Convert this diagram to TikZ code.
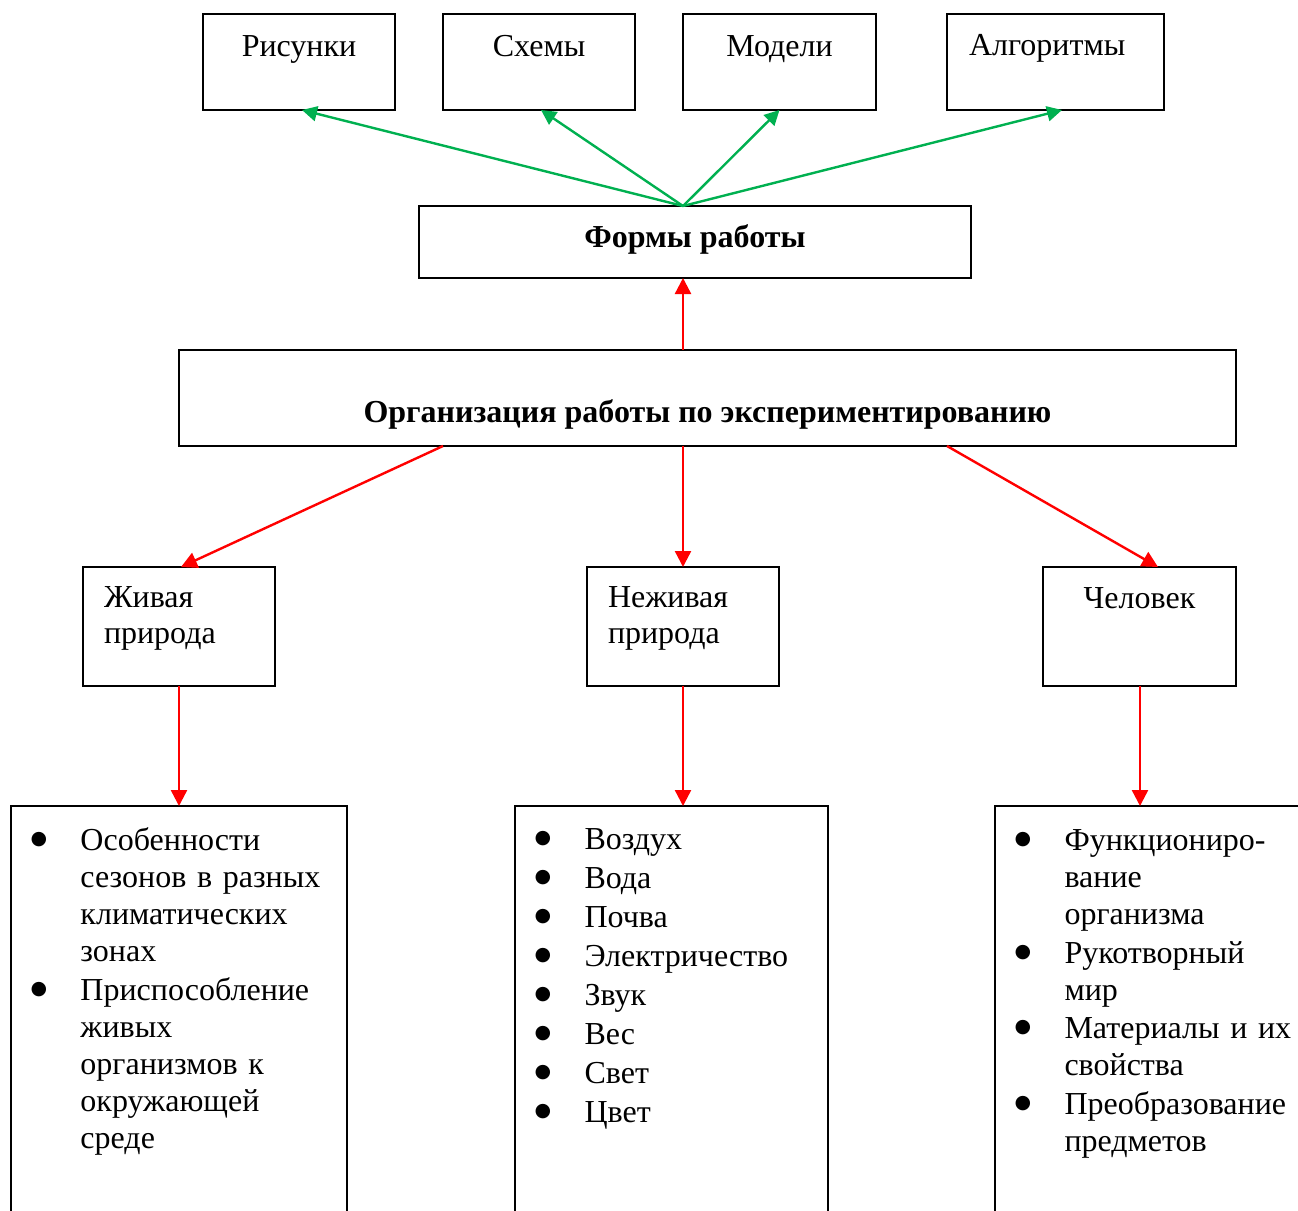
\documentclass[tikz,border=0pt]{standalone}
\usepackage{fontspec}
\setmainfont{Liberation Serif}
\newfontfamily\symfont{DejaVu Sans}
\usetikzlibrary{arrows.meta,calc}
\definecolor{grn}{RGB}{0,176,80}
\definecolor{rd}{RGB}{255,0,0}
\newcommand\bulitem{\makebox[41.5pt][l]{\makebox[0pt][c]{\raisebox{6pt}{\symfont\fontsize{19}{19}\selectfont ●}}}}
\begin{document}
\begin{tikzpicture}[x=1pt,y=-1pt,
  box/.style={draw, line width=1.8pt, inner sep=0pt, outer sep=0pt, anchor=north west,
    font=\fontsize{32}{37}\selectfont},
  bbox/.style={box, font=\fontsize{32}{37}\selectfont\bfseries},
  garrow/.style={draw=grn, line width=2.4pt, -{Triangle[length=15pt,width=15pt]}},
  rarrow/.style={draw=rd, line width=2.4pt, -{Triangle[length=16pt,width=16pt]}}]
\useasboundingbox (0,0) rectangle (1298,1210);
\clip (0,0) rectangle (1298,1210);
% top row
\node[box, minimum width=192pt, text height=42pt, text depth=54pt] (ris) at (203,14) {Рисунки};
\node[box, minimum width=192pt, text height=42pt, text depth=54pt] (sch) at (443,14) {Схемы};
\node[box, minimum width=193pt, text height=42pt, text depth=54pt] (mod) at (683,14) {Модели};
\node[box, text width=217pt, align=left, text height=41pt, text depth=55pt] (alg) at (947,14) {\hspace*{22pt}Алгоритмы};
% forms
\node[bbox, minimum width=552pt, text height=41pt, text depth=31pt] (forms) at (419,206) {Формы работы};
% organisation
\node[bbox, minimum width=1057pt, text height=72pt, text depth=24pt] (org) at (179,350) {Организация работы по экспериментированию};
% middle row
\node[box, text width=192pt, align=left, text height=40pt, text depth=79pt,
  font=\fontsize{32}{36}\selectfont] (ziv) at (83,567) {\hspace*{21pt}Живая\\\hspace*{21pt}природа};
\node[box, text width=192pt, align=left, text height=40pt, text depth=79pt,
  font=\fontsize{32}{36}\selectfont] (nez) at (587,567) {\hspace*{21pt}Неживая\\\hspace*{21pt}природа};
\node[box, minimum width=193pt, text height=41pt, text depth=78pt] (chel) at (1043,567) {Человек};
% bottom row
\node[box, text width=336pt, align=left, text height=44pt, text depth=420pt] (lft) at (11,806)
 {\noindent\hspace*{28pt}\begin{tabular}[t]{@{}l@{}l@{}}
  \bulitem & Особенности\\
  & сезонов в разных\\
  & климатических\\
  & зонах\\[2pt]
  \bulitem & Приспособление\\
  & живых\\
  & организмов к\\
  & окружающей\\
  & среде
 \end{tabular}};
\node[box, text width=313pt, align=left, text height=43pt, text depth=420pt] (mid) at (515,806)
 {\noindent\hspace*{28pt}\begin{tabular}[t]{@{}l@{}l@{}}
  \bulitem & Воздух\\[2pt]
  \bulitem & Вода\\[2pt]
  \bulitem & Почва\\[2pt]
  \bulitem & Электричество\\[2pt]
  \bulitem & Звук\\[2pt]
  \bulitem & Вес\\[2pt]
  \bulitem & Свет\\[2pt]
  \bulitem & Цвет
 \end{tabular}};
\node[box, text width=340pt, align=left, text height=44pt, text depth=420pt] (rgt) at (995,806)
 {\noindent\hspace*{28pt}\begin{tabular}[t]{@{}l@{}l@{}}
  \bulitem & Функциониро-\\
  & вание\\
  & организма\\[2pt]
  \bulitem & Рукотворный\\
  & мир\\[1pt]
  \bulitem & Материалы и их\\
  & свойства\\[2pt]
  \bulitem & Преобразование\\
  & предметов
 \end{tabular}};
% connector end points
\coordinate (fs) at ($(forms.north west)+(264,0)$);
\coordinate (ristip) at ($(ris.south west)+(99,0)$);
\coordinate (schtip) at ($(sch.south west)+(98,0)$);
\coordinate (algtip) at ($(alg.south west)+(115,0)$);
\coordinate (orgtop) at ($(org.north west)+(504,0)$);
\coordinate (formbot) at ($(forms.south west)+(264,0)$);
\coordinate (orgl) at ($(org.south west)+(264,0)$);
\coordinate (orgm) at ($(org.south west)+(504,0)$);
\coordinate (orgr) at ($(org.south west)+(768,0)$);
\coordinate (zivtip) at ($(ziv.north west)+(98,0)$);
\coordinate (cheltip) at ($(chel.north west)+(115,0)$);
\coordinate (zivbot) at ($(ziv.south west)+(96,0)$);
\coordinate (chelbot) at ($(chel.south west)+(97,0)$);
% green arrows
\draw[garrow] (fs) -- (ristip);
\draw[garrow] (fs) -- (schtip);
\draw[garrow] (fs) -- (mod.south);
\draw[garrow] (fs) -- (algtip);
% red arrows
\draw[rarrow] (orgtop) -- (formbot);
\draw[rarrow] (orgl) -- (zivtip);
\draw[rarrow] (orgm) -- (nez.north);
\draw[rarrow] (orgr) -- (cheltip);
\draw[rarrow] (zivbot) -- (zivbot |- lft.north);
\draw[rarrow] (nez.south) -- (nez.south |- mid.north);
\draw[rarrow] (chelbot) -- (chelbot |- rgt.north);
\end{tikzpicture}
\end{document}
